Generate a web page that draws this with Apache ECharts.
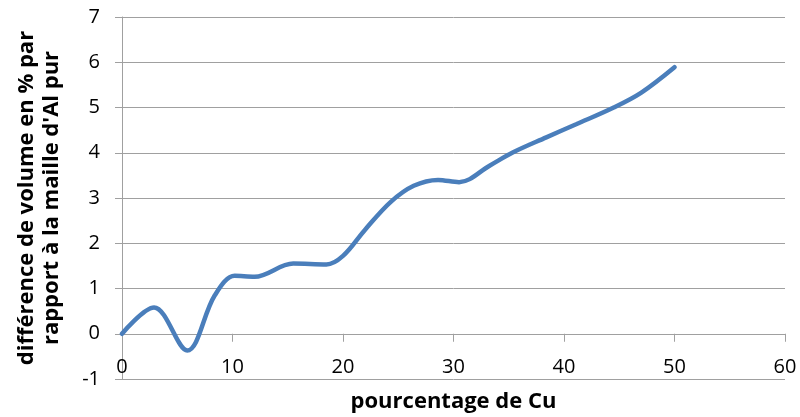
<!DOCTYPE html>
<html><head><meta charset="utf-8">
<script src="https://cdn.jsdelivr.net/npm/echarts@6/dist/echarts.min.js"></script>
<style>html,body{margin:0;padding:0;background:#fff}#c{width:800px;height:417px}</style>
</head><body><div id="c"></div>
<script>
const xValues = [0, 2.9, 5.9, 8.4, 10.2, 12, 15.5, 18.5, 20, 22, 24.3, 26.4, 28.6, 30.5, 33.3, 35.4, 38.4, 41.1, 44.5, 47, 50];
const yValues = [0, 0.58, -0.37, 0.85, 1.28, 1.26, 1.55, 1.53, 1.72, 2.3, 2.91, 3.27, 3.40, 3.35, 3.72, 4.01, 4.34, 4.63, 5.0, 5.33, 5.89];
const xTitle = 'pourcentage de Cu';
const yTitle = "différence de volume en % par\nrapport à la maille d'Al pur";
const font = 'Open Sans';
const chart = echarts.init(document.getElementById('c'), null, {renderer: 'canvas'});
chart.setOption({
  animation: false,
  grid: {left: 122, right: 15, top: 17, bottom: 38, outerBoundsMode: 'none', containLabel: false},
  xAxis: {
    type: 'value', min: 0, max: 60, interval: 10,
    name: xTitle, nameLocation: 'middle', nameGap: 12,
    nameTextStyle: {fontFamily: font, fontWeight: 'bold', fontSize: 22, color: '#000'},
    axisLine: {onZero: true, lineStyle: {color: '#a0a0a0', width: 1}},
    axisTick: {show: true, length: 8, lineStyle: {color: '#a0a0a0'}},
    axisLabel: {margin: -22, fontFamily: font, fontSize: 20, color: '#000'},
    splitLine: {show: false}
  },
  yAxis: {
    type: 'value', min: -1, max: 7, interval: 1,
    name: yTitle, nameLocation: 'middle', nameGap: 58, nameRotate: 90,
    nameTextStyle: {fontFamily: font, fontWeight: 'bold', fontSize: 22, color: '#000', lineHeight: 25},
    axisLine: {show: true, lineStyle: {color: '#a0a0a0', width: 1}},
    axisTick: {show: true, length: 7, lineStyle: {color: '#a0a0a0'}},
    axisLabel: {margin: 22, fontFamily: font, fontSize: 20, color: '#000'},
    splitLine: {show: true, lineStyle: {color: '#a0a0a0', width: 1}}
  },
  series: [{
    type: 'line', smooth: 0.35, showSymbol: false,
    data: xValues.map((x, i) => [x, yValues[i]]),
    lineStyle: {color: '#4a7ebb', width: 4.5, cap: 'round'}
  }]
});
</script></body></html>
